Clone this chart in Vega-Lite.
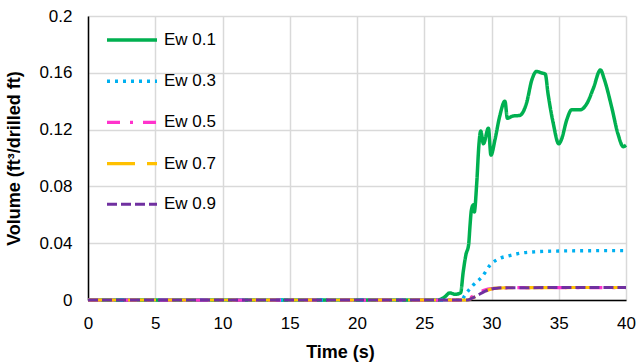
{
  "$schema": "https://vega.github.io/schema/vega-lite/v6.json",
  "width": 538,
  "height": 284,
  "autosize": {"type": "none"},
  "padding": {"left": 88, "top": 16, "right": 11, "bottom": 64},
  "background": "white",
  "config": {"view": {"stroke": null}, "font": "Liberation Sans"},
  "data": {
    "values": [
      {"series": "Ew 0.1", "t": 0, "v": 0},
      {"series": "Ew 0.1", "t": 26.0, "v": 0},
      {"series": "Ew 0.1", "t": 26.5, "v": 0.002},
      {"series": "Ew 0.1", "t": 26.9, "v": 0.005},
      {"series": "Ew 0.1", "t": 27.3, "v": 0.004},
      {"series": "Ew 0.1", "t": 27.7, "v": 0.005},
      {"series": "Ew 0.1", "t": 27.9, "v": 0.02},
      {"series": "Ew 0.1", "t": 28.1, "v": 0.032},
      {"series": "Ew 0.1", "t": 28.3, "v": 0.039},
      {"series": "Ew 0.1", "t": 28.4, "v": 0.052},
      {"series": "Ew 0.1", "t": 28.5, "v": 0.063},
      {"series": "Ew 0.1", "t": 28.65, "v": 0.067},
      {"series": "Ew 0.1", "t": 28.72, "v": 0.062},
      {"series": "Ew 0.1", "t": 28.9, "v": 0.082},
      {"series": "Ew 0.1", "t": 29.07, "v": 0.11},
      {"series": "Ew 0.1", "t": 29.2, "v": 0.119},
      {"series": "Ew 0.1", "t": 29.4, "v": 0.11},
      {"series": "Ew 0.1", "t": 29.77, "v": 0.121},
      {"series": "Ew 0.1", "t": 29.96, "v": 0.102},
      {"series": "Ew 0.1", "t": 30.26, "v": 0.113},
      {"series": "Ew 0.1", "t": 30.6, "v": 0.129},
      {"series": "Ew 0.1", "t": 31.0, "v": 0.14},
      {"series": "Ew 0.1", "t": 31.18, "v": 0.128},
      {"series": "Ew 0.1", "t": 31.6, "v": 0.1296},
      {"series": "Ew 0.1", "t": 32.1, "v": 0.13},
      {"series": "Ew 0.1", "t": 32.6, "v": 0.1385},
      {"series": "Ew 0.1", "t": 33.0, "v": 0.155},
      {"series": "Ew 0.1", "t": 33.35, "v": 0.161},
      {"series": "Ew 0.1", "t": 33.7, "v": 0.16},
      {"series": "Ew 0.1", "t": 34.0, "v": 0.159},
      {"series": "Ew 0.1", "t": 34.2, "v": 0.1455},
      {"series": "Ew 0.1", "t": 34.6, "v": 0.124},
      {"series": "Ew 0.1", "t": 35.0, "v": 0.11},
      {"series": "Ew 0.1", "t": 35.2, "v": 0.113},
      {"series": "Ew 0.1", "t": 35.6, "v": 0.127},
      {"series": "Ew 0.1", "t": 35.96, "v": 0.134},
      {"series": "Ew 0.1", "t": 36.6, "v": 0.134},
      {"series": "Ew 0.1", "t": 37.1, "v": 0.1385},
      {"series": "Ew 0.1", "t": 37.57, "v": 0.149},
      {"series": "Ew 0.1", "t": 38.1, "v": 0.162},
      {"series": "Ew 0.1", "t": 38.4, "v": 0.155},
      {"series": "Ew 0.1", "t": 38.93, "v": 0.136},
      {"series": "Ew 0.1", "t": 39.4, "v": 0.117},
      {"series": "Ew 0.1", "t": 39.8, "v": 0.108},
      {"series": "Ew 0.1", "t": 40.0, "v": 0.109},
      {"series": "Ew 0.3", "t": 0, "v": 0},
      {"series": "Ew 0.3", "t": 27.8, "v": 0},
      {"series": "Ew 0.3", "t": 28.0, "v": 0.003},
      {"series": "Ew 0.3", "t": 28.65, "v": 0.0106},
      {"series": "Ew 0.3", "t": 29.3, "v": 0.0164},
      {"series": "Ew 0.3", "t": 29.9, "v": 0.0246},
      {"series": "Ew 0.3", "t": 30.6, "v": 0.0293},
      {"series": "Ew 0.3", "t": 31.25, "v": 0.031},
      {"series": "Ew 0.3", "t": 32.1, "v": 0.0329},
      {"series": "Ew 0.3", "t": 33.35, "v": 0.034},
      {"series": "Ew 0.3", "t": 35.1, "v": 0.0345},
      {"series": "Ew 0.3", "t": 37.0, "v": 0.0347},
      {"series": "Ew 0.3", "t": 40.0, "v": 0.0348},
      {"series": "Ew 0.5", "t": 0, "v": 0},
      {"series": "Ew 0.5", "t": 28.0, "v": 0},
      {"series": "Ew 0.5", "t": 28.5, "v": 0.002},
      {"series": "Ew 0.5", "t": 29.0, "v": 0.005},
      {"series": "Ew 0.5", "t": 29.5, "v": 0.007},
      {"series": "Ew 0.5", "t": 30.0, "v": 0.008},
      {"series": "Ew 0.5", "t": 31.0, "v": 0.0086},
      {"series": "Ew 0.5", "t": 40.0, "v": 0.0088},
      {"series": "Ew 0.7", "t": 0, "v": 0},
      {"series": "Ew 0.7", "t": 28.2, "v": 0},
      {"series": "Ew 0.7", "t": 28.6, "v": 0.0015},
      {"series": "Ew 0.7", "t": 29.0, "v": 0.0035},
      {"series": "Ew 0.7", "t": 29.5, "v": 0.006},
      {"series": "Ew 0.7", "t": 30.0, "v": 0.0078},
      {"series": "Ew 0.7", "t": 30.5, "v": 0.0084},
      {"series": "Ew 0.7", "t": 31.0, "v": 0.0086},
      {"series": "Ew 0.7", "t": 33.0, "v": 0.0087},
      {"series": "Ew 0.7", "t": 40.0, "v": 0.0088},
      {"series": "Ew 0.9", "t": 0, "v": 0},
      {"series": "Ew 0.9", "t": 28.2, "v": 0},
      {"series": "Ew 0.9", "t": 28.6, "v": 0.0015},
      {"series": "Ew 0.9", "t": 29.0, "v": 0.0035},
      {"series": "Ew 0.9", "t": 29.5, "v": 0.006},
      {"series": "Ew 0.9", "t": 30.0, "v": 0.0078},
      {"series": "Ew 0.9", "t": 30.5, "v": 0.0084},
      {"series": "Ew 0.9", "t": 31.0, "v": 0.0086},
      {"series": "Ew 0.9", "t": 33.0, "v": 0.0087},
      {"series": "Ew 0.9", "t": 40.0, "v": 0.0088}
    ]
  },
  "mark": {"type": "line", "interpolate": "monotone", "clip": false},
  "encoding": {
    "x": {
      "field": "t", "type": "quantitative",
      "scale": {"domain": [0, 40], "nice": false, "zero": false},
      "axis": {
        "title": "Time (s)", "values": [0, 5, 10, 15, 20, 25, 30, 35, 40],
        "grid": true, "gridColor": "#D9D9D9", "gridWidth": 1.5,
        "domainColor": "#000000", "domainWidth": 1.5,
        "ticks": false, "tickSize": 0,
        "labelFontSize": 17, "labelColor": "#000000", "labelPadding": 28, "labelBaseline": "alphabetic",
        "labelFlush": false,
        "titleFontSize": 18, "titleFontWeight": "bold", "titleColor": "#000000",
        "titleX": 252, "titleY": 57, "titleBaseline": "alphabetic", "titleAnchor": null
      }
    },
    "y": {
      "field": "v", "type": "quantitative",
      "scale": {"domain": [0, 0.2], "nice": false},
      "axis": {
        "title": "Volume (ft³/drilled ft)", "values": [0, 0.04, 0.08, 0.12, 0.16, 0.2],
        "format": ".2~f",
        "grid": true, "gridColor": "#D9D9D9", "gridWidth": 1.5,
        "domainColor": "#000000", "domainWidth": 1.5,
        "ticks": false, "tickSize": 0,
        "labelFontSize": 17, "labelColor": "#000000", "labelPadding": 16,
        "labelFlush": false,
        "titleFontSize": 18, "titleFontWeight": "bold", "titleColor": "#000000",
        "titlePadding": 15
      }
    },
    "color": {
      "field": "series", "type": "nominal",
      "scale": {"domain": ["Ew 0.1", "Ew 0.3", "Ew 0.5", "Ew 0.7", "Ew 0.9"],
                "range": ["#00B050", "#00B0F0", "#FF33CC", "#FFC000", "#7030A0"]},
      "legend": {
        "title": null, "orient": "none", "legendX": 17, "legendY": -3,
        "symbolType": "stroke", "symbolSize": 2500, "symbolStrokeWidth": 3,
        "labelFontSize": 17, "labelColor": "#000000", "labelOffset": 5,
        "rowPadding": 6.2, "padding": 0
      }
    },
    "strokeDash": {
      "field": "series", "type": "nominal",
      "scale": {"domain": ["Ew 0.1", "Ew 0.3", "Ew 0.5", "Ew 0.7", "Ew 0.9"],
                "range": [[1, 0], [3, 5], [13, 10, 3, 10], [28, 12], [10, 4]]},
      "legend": {
        "title": null, "orient": "none", "legendX": 17, "legendY": -3,
        "symbolType": "stroke", "symbolSize": 2500,
        "labelFontSize": 17, "labelColor": "#000000", "labelOffset": 5,
        "rowPadding": 6.2, "padding": 0
      }
    },
    "strokeWidth": {
      "field": "series", "type": "nominal",
      "scale": {"domain": ["Ew 0.1", "Ew 0.3", "Ew 0.5", "Ew 0.7", "Ew 0.9"],
                "range": [3.5, 3, 3, 3, 3]},
      "legend": {
        "title": null, "orient": "none", "legendX": 17, "legendY": -3,
        "symbolType": "stroke", "symbolSize": 2500,
        "labelFontSize": 17, "labelColor": "#000000", "labelOffset": 5,
        "rowPadding": 6.2, "padding": 0
      }
    }
  }
}
